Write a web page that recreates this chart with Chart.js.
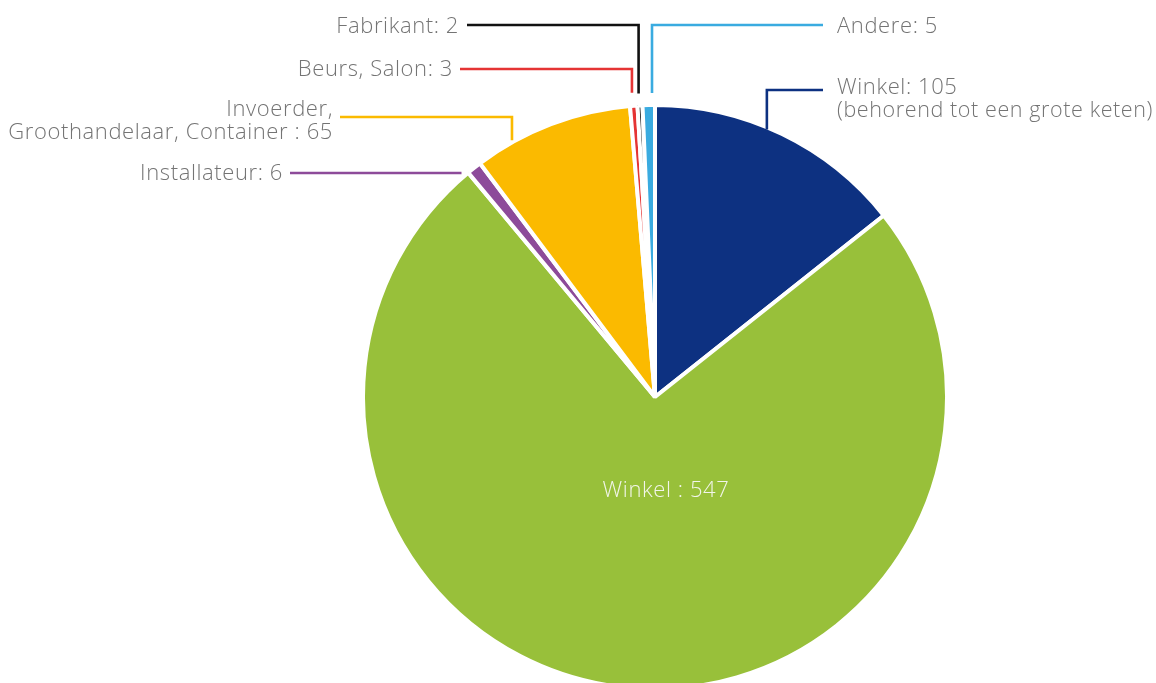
<!DOCTYPE html>
<html>
<head>
<meta charset="utf-8">
<script src="https://cdn.jsdelivr.net/npm/chart.js@4.4.1/dist/chart.umd.min.js"></script>
<style>
  html, body { margin: 0; padding: 0; background: #ffffff; }
  #wrap { width: 1156px; height: 683px; position: relative; }
</style>
</head>
<body>
<div id="wrap"><canvas id="c" width="1156" height="683"></canvas></div>
<script>
// ---- data ----
const categories = ['Winkel (behorend tot een grote keten)', 'Winkel', 'Installateur',
  'Invoerder, Groothandelaar, Container', 'Beurs, Salon', 'Fabrikant', 'Andere'];
const values = [105, 547, 6, 65, 3, 2, 5];
const labelTemplates = [
  ['Winkel: {v}', '(behorend tot een grote keten)'],
  ['Winkel : {v}'],
  ['Installateur: {v}'],
  ['Invoerder,', 'Groothandelaar, Container : {v}'],
  ['Beurs, Salon: {v}'],
  ['Fabrikant: {v}'],
  ['Andere: {v}']
];
const sliceColors = ['#0d3181', '#98c03a', '#8d4b9a', '#fbba00', '#e53434', '#111111', '#3aabe0'];

// ---- label layout (styling only) ----
const leaderLayout = [
  { type: 'elbow', frac: 0.44, gap: -2, ly: 90, lineEnd: 823, tx: 837, ty: 94, align: 'left', maxW: 316 },
  { type: 'inside', dx: 11, ty: 497 },
  { type: 'horizontal', gap: 4, ly: 173, lineEnd: 290, tx: 283, ty: 180, align: 'right' },
  { type: 'elbow', frac: 0.242, gap: 2, ly: 117, lineEnd: 340, tx: 333, ty: 116, align: 'right' },
  { type: 'elbow', frac: 0.39, gap: 13, ly: 69, lineEnd: 460, tx: 453, ty: 76, align: 'right' },
  { type: 'elbow', frac: 0.35, gap: 12, ly: 25, lineEnd: 467, tx: 459, ty: 33, align: 'right' },
  { type: 'elbow', frac: 0.77, gap: 12, ly: 25, lineEnd: 823, tx: 837, ty: 33, align: 'left' }
];
const FONT = '300 22px "Open Sans", Lato, sans-serif';
const TEXT_COLOR = '#747474';
const LINE_H = 23;

const leaderPlugin = {
  id: 'leaders',
  afterDatasetsDraw(chart) {
    const ctx = chart.ctx;
    const meta = chart.getDatasetMeta(0);
    ctx.save();
    ctx.font = FONT;
    ctx.letterSpacing = '0.6px';
    meta.data.forEach((arc, i) => {
      const L = leaderLayout[i];
      const p = arc.getProps(['x', 'y', 'startAngle', 'endAngle', 'outerRadius'], true);
      const lines = labelTemplates[i].map(t => t.replace('{v}', values[i]));
      ctx.lineWidth = 2.6;
      ctx.strokeStyle = sliceColors[i];
      ctx.lineCap = 'butt';
      ctx.lineJoin = 'miter';
      if (L.type === 'elbow') {
        const a = p.startAngle + (p.endAngle - p.startAngle) * L.frac;
        const r = p.outerRadius + L.gap;
        const ax = p.x + r * Math.cos(a);
        const ay = p.y + r * Math.sin(a);
        ctx.beginPath();
        ctx.moveTo(ax, ay);
        ctx.lineTo(ax, L.ly);
        ctx.lineTo(L.lineEnd, L.ly);
        ctx.stroke();
      } else if (L.type === 'horizontal') {
        const r = p.outerRadius + L.gap;
        const dy = L.ly - p.y;
        const ax = p.x - Math.sqrt(Math.max(r * r - dy * dy, 0));
        ctx.beginPath();
        ctx.moveTo(ax, L.ly);
        ctx.lineTo(L.lineEnd, L.ly);
        ctx.stroke();
      }
      ctx.textBaseline = 'alphabetic';
      if (L.type === 'inside') {
        ctx.fillStyle = '#f2f5ea';
        ctx.textAlign = 'center';
        ctx.fillText(lines[0], p.x + L.dx, L.ty);
      } else {
        ctx.fillStyle = TEXT_COLOR;
        ctx.textAlign = L.align;
        lines.forEach((s, k) => {
          const w = ctx.measureText(s).width;
          if (L.maxW && w > L.maxW) ctx.fillText(s, L.tx, L.ty + k * LINE_H, L.maxW);
          else ctx.fillText(s, L.tx, L.ty + k * LINE_H);
        });
      }
    });
    ctx.restore();
  }
};

new Chart(document.getElementById('c'), {
  type: 'pie',
  data: {
    labels: categories,
    datasets: [{
      data: values,
      backgroundColor: sliceColors,
      borderColor: '#ffffff',
      borderWidth: 4
    }]
  },
  options: {
    responsive: false,
    animation: false,
    radius: 292,
    layout: { padding: { left: 154, top: 111, right: 0, bottom: 0 } },
    plugins: {
      legend: { display: false },
      tooltip: { enabled: false }
    }
  },
  plugins: [leaderPlugin]
});
</script>
</body>
</html>
